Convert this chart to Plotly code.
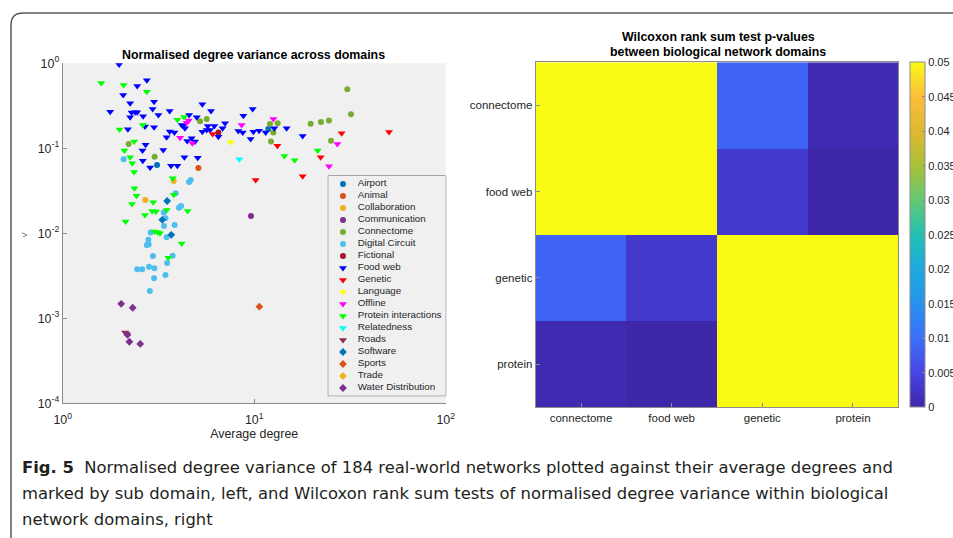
import plotly.graph_objects as go

W, H = 953, 538


def fx(px):
    return px / W


def fy(py):
    return 1 - py / H


# ---------------------------------------------------------------- scatter data
# (average degree, normalised degree variance) per sub domain
airport_deg = [11.85, 3.11]
airport_var = [0.169, 0.0637]

animal_deg = [5.11]
animal_var = [0.0587]

collaboration_deg = [3.80, 2.70]
collaboration_var = [0.0413, 0.0247]

communication_deg = [9.62]
communication_var = [0.0160]

connectome_deg = [2.21, 3.02, 5.21, 5.65, 12.09, 13.26, 12.59, 12.24,
                  30.64, 32.03, 19.71, 22.32, 24.58, 25.18]
connectome_var = [0.112, 0.0798, 0.208, 0.221, 0.193, 0.197, 0.153, 0.120,
                  0.494, 0.251, 0.195, 0.204, 0.213, 0.123]

digital_deg = [2.08, 4.57, 4.66, 3.89, 4.15, 4.05, 3.37, 3.44, 3.38, 3.84,
               2.88, 3.49, 2.80, 2.75, 2.81, 2.96, 3.75, 3.51, 2.82, 2.45,
               2.60, 3.01, 3.44, 3.00, 2.85]
digital_var = [0.0743, 0.0402, 0.0424, 0.0296, 0.0210, 0.0200, 0.0176, 0.0150,
               0.0122, 0.0125, 0.0102, 0.0090, 0.0084, 0.0073, 0.0074, 0.00541,
               0.00546, 0.00448, 0.00405, 0.00377, 0.00377, 0.00388, 0.00323,
               0.00296, 0.00210]

fictional_deg = [6.50]
fictional_var = [0.153]

food_web_deg = [1.97, 2.45, 2.75, 2.07, 2.25, 3.00, 2.95, 1.77, 2.29, 2.39,
                2.45, 2.25, 2.63, 3.16, 3.62, 2.19, 2.69, 3.00, 4.18, 4.26,
                4.35, 3.62, 3.83, 3.49, 4.47, 2.71, 3.35, 2.61, 4.32, 2.62,
                2.86, 3.68, 3.97, 5.36, 5.95, 9.82, 8.78, 4.57, 5.01, 7.04,
                6.19, 5.72, 6.84, 12.74, 14.77, 5.36, 5.65, 5.88, 6.50, 8.26,
                8.71, 9.90, 10.60, 11.48, 9.58, 4.71, 4.91, 5.07, 17.91]
food_web_var = [0.965, 0.541, 0.631, 0.424, 0.338, 0.354, 0.290, 0.270, 0.263, 0.265,
                0.265, 0.232, 0.238, 0.247, 0.275, 0.167, 0.180, 0.177, 0.188, 0.183,
                0.172, 0.158, 0.153, 0.135, 0.122, 0.110, 0.0956, 0.0939, 0.0783, 0.0716,
                0.0593, 0.0625, 0.0625, 0.329, 0.275, 0.290, 0.242, 0.247, 0.232, 0.197,
                0.183, 0.183, 0.172, 0.172, 0.172, 0.157, 0.164, 0.164, 0.137, 0.160,
                0.153, 0.157, 0.161, 0.153, 0.129, 0.131, 0.120, 0.0776, 0.140]

genetic_deg = [6.07, 28.62, 50.57, 13.21, 22.23, 17.91, 10.18]
genetic_var = [0.147, 0.150, 0.156, 0.107, 0.0783, 0.0469, 0.0424]

language_deg = [7.54]
language_var = [0.118]

offline_deg = [4.44, 4.55, 4.10, 4.75, 12.59, 8.60, 27.18, 24.58]
offline_var = [0.200, 0.213, 0.133, 0.115, 0.221, 0.188, 0.112, 0.0614]

protein_deg = [1.59, 2.08, 2.75, 1.98, 2.62, 3.97, 4.30, 2.36, 2.10, 2.25,
               2.31, 2.36, 3.75, 14.37, 21.45, 16.27, 2.37, 2.43, 3.80, 2.97,
               2.30, 4.49, 2.93, 3.07, 3.49, 2.69, 2.13, 3.02, 3.13, 3.22,
               4.18, 3.56]
protein_var = [0.587, 0.556, 0.464, 0.166, 0.188, 0.216, 0.234, 0.120, 0.0939, 0.0783,
               0.0666, 0.0527, 0.0444, 0.0813, 0.0939, 0.0723, 0.0338, 0.0277, 0.0285, 0.0232,
               0.0221, 0.0183, 0.0183, 0.0180, 0.0188, 0.0164, 0.0138, 0.0105, 0.0103, 0.0100,
               0.0076, 0.00517]

relatedness_deg = [8.36]
relatedness_var = [0.0743]

roads_deg = [2.12, 2.16]
roads_var = [0.00068, 0.00066]

software_deg = [3.51, 3.31, 3.69]
software_var = [0.0240, 0.0144, 0.0096]

sports_deg = [10.64]
sports_var = [0.00137]

trade_deg = []
trade_var = []

water_deg = [2.02, 2.32, 2.18, 2.23, 2.54]
water_var = [0.00148, 0.00133, 0.00064, 0.00053, 0.00050]

domain_names = ["Airport", "Animal", "Collaboration", "Communication", "Connectome",
                "Digital Circuit", "Fictional", "Food web", "Genetic", "Language",
                "Offline", "Protein interactions", "Relatedness", "Roads", "Software",
                "Sports", "Trade", "Water Distribution"]

domain_data = [
    (airport_deg, airport_var), (animal_deg, animal_var),
    (collaboration_deg, collaboration_var), (communication_deg, communication_var),
    (connectome_deg, connectome_var), (digital_deg, digital_var),
    (fictional_deg, fictional_var), (food_web_deg, food_web_var),
    (genetic_deg, genetic_var), (language_deg, language_var),
    (offline_deg, offline_var), (protein_deg, protein_var),
    (relatedness_deg, relatedness_var), (roads_deg, roads_var),
    (software_deg, software_var), (sports_deg, sports_var),
    (trade_deg, trade_var), (water_deg, water_var),
]

# marker style per domain: circles, triangles, diamonds
domain_symbols = (["circle"] * 7 + ["triangle-down"] * 7 + ["diamond"] * 4)
domain_colors = ["#0072BD", "#D95319", "#EDB120", "#7E2F8E", "#77AC30", "#4DBEEE",
                 "#A2142F", "#0000FF", "#FF0000", "#FFFF00", "#FF00FF", "#00FF00",
                 "#00FFFF", "#8E2C4A", "#0072BD", "#D95319", "#EDB120", "#7E2F8E"]

y_tick_vals = [1e-4, 1e-3, 1e-2, 1e-1, 1]
y_tick_text = ["10<sup>-4</sup>", "10<sup>-3</sup>", "10<sup>-2</sup>",
               "10<sup>-1</sup>", "10<sup>0</sup>"]
x_tick_vals = [1, 10, 100]
x_tick_text = ["10<sup>0</sup>", "10<sup>1</sup>", "10<sup>2</sup>"]

# ---------------------------------------------------------------- heatmap data
bio_domains = ["connectome", "food web", "genetic", "protein"]
p_values = [
    [1.0, 0.41, 0.0085, 0.0008],
    [0.41, 1.0, 0.0030, 0.0001],
    [0.0085, 0.0030, 1.0, 0.27],
    [0.0008, 0.0001, 0.27, 1.0],
]
cbar_vals = [0, 0.005, 0.01, 0.015, 0.02, 0.025, 0.03, 0.035, 0.04, 0.045, 0.05]
cbar_text = ["0", "0.005", "0.01", "0.015", "0.02", "0.025", "0.03", "0.035",
             "0.04", "0.045", "0.05"]

parula = [
    [0.0, "rgb(62,38,168)"], [0.1, "rgb(71,70,230)"], [0.2, "rgb(60,112,250)"],
    [0.3, "rgb(40,145,235)"], [0.4, "rgb(28,170,222)"], [0.5, "rgb(35,192,180)"],
    [0.6, "rgb(100,200,115)"], [0.7, "rgb(170,192,58)"], [0.8, "rgb(222,185,48)"],
    [0.9, "rgb(252,190,60)"], [1.0, "rgb(249,251,20)"],
]

FONT = "Liberation Sans, Arial, sans-serif"
CAPTION_FONT = "DejaVu Sans, sans-serif"
TXT = "#262626"
AX = "#8c8c8c"

fig = go.Figure()

for name, (xs, ys), sym, col in zip(domain_names, domain_data, domain_symbols, domain_colors):
    size = 7 if sym == "triangle-down" else 6
    fig.add_trace(go.Scatter(
        x=xs, y=ys, mode="markers", name=name, xaxis="x", yaxis="y",
        marker=dict(symbol=sym, color=col, size=size, line=dict(width=0)),
        showlegend=False, hoverinfo="skip"))

# in-axes legend drawn on its own small subplot
legend_rows = list(range(len(domain_names)))
for name, row, sym, col in zip(domain_names, legend_rows, domain_symbols, domain_colors):
    fig.add_trace(go.Scatter(
        x=[0.125], y=[row], mode="markers", xaxis="x3", yaxis="y3",
        marker=dict(symbol=sym, color=col, size=6 if sym != "triangle-down" else 7,
                    line=dict(width=0)),
        showlegend=False, hoverinfo="skip"))
fig.add_trace(go.Scatter(
    x=[0.25] * len(domain_names), y=legend_rows, mode="text", text=domain_names,
    textposition="middle right", textfont=dict(family=FONT, size=9.8, color=TXT),
    xaxis="x3", yaxis="y3", showlegend=False, hoverinfo="skip"))

fig.add_trace(go.Heatmap(
    x=bio_domains, y=bio_domains, z=p_values, xaxis="x2", yaxis="y2",
    zmin=0, zmax=0.05, colorscale=parula, hoverinfo="skip",
    colorbar=dict(x=fx(910), xanchor="left", xpad=0, ypad=0, thickness=15,
                  thicknessmode="pixels", len=(407.3 - 62.3) / H, lenmode="fraction",
                  y=fy((62.3 + 407.3) / 2), yanchor="middle",
                  outlinecolor=AX, outlinewidth=1,
                  ticks="inside", ticklen=3, tickcolor=AX,
                  tickvals=cbar_vals, ticktext=cbar_text,
                  tickfont=dict(family=FONT, size=11, color=TXT))))

axis_common = dict(showgrid=False, zeroline=False, showline=True, linecolor=AX,
                   linewidth=1, ticks="inside", ticklen=4, tickcolor=AX, automargin=False,
                   tickfont=dict(family=FONT, size=12.4, color=TXT))

fig.update_layout(
    width=W, height=H, margin=dict(l=0, r=0, t=0, b=0, autoexpand=False),
    paper_bgcolor="white", plot_bgcolor="#f0f0f0",
    xaxis=dict(type="log", range=[0, 2], domain=[fx(62.7), fx(445.7)], anchor="y",
               tickvals=x_tick_vals, ticktext=x_tick_text, ticklabelstandoff=5,
               title=dict(text="Average degree", font=dict(family=FONT, size=12.4, color=TXT),
                          standoff=2),
               **axis_common),
    yaxis=dict(type="log", range=[-4, 0], domain=[fy(403.3), fy(63.3)], anchor="x",
               tickvals=y_tick_vals, ticktext=y_tick_text, **axis_common),
    xaxis2=dict(domain=[fx(535.7), fx(898.3)], anchor="y2", mirror=True,
                **{**axis_common, "tickfont": dict(family=FONT, size=11.5, color=TXT)}),
    yaxis2=dict(domain=[fy(407.3), fy(62.3)], anchor="x2", autorange="reversed", mirror=True,
                **{**axis_common, "tickfont": dict(family=FONT, size=11.5, color=TXT)}),
    xaxis3=dict(domain=[fx(328.3), fx(445.7)], anchor="y3", range=[0, 1], visible=False),
    yaxis3=dict(domain=[fy(395.7), fy(176)], anchor="x3", range=[17.64, -0.667],
                visible=False),
)

# legend frame
fig.add_shape(type="rect", xref="paper", yref="paper", layer="below",
              x0=fx(328.3), x1=fx(445.7), y0=fy(395.7), y1=fy(176),
              fillcolor="white", line=dict(color="#5a5a5a", width=1))

# figure frame with rounded top-left corner
fig.add_shape(type="path", xref="paper", yref="paper", layer="above",
              path=f"M {fx(11)},{fy(538)} L {fx(11)},{fy(25)} "
                   f"Q {fx(11)},{fy(13)} {fx(23)},{fy(13)} L {fx(953)},{fy(13)}",
              line=dict(color="#5a5a5a", width=1.5))

annotations = [
    dict(text="<b>Normalised degree variance across domains</b>", x=fx(254), y=fy(55),
         font=dict(family=FONT, size=12.4, color="black")),
    dict(text="<b>Wilcoxon rank sum test p-values</b>", x=fx(718), y=fy(37),
         font=dict(family=FONT, size=12.4, color="black")),
    dict(text="<b>between biological network domains</b>", x=fx(718), y=fy(52),
         font=dict(family=FONT, size=12.4, color="black")),
    dict(text="ν̄", x=fx(25), y=fy(234), textangle=-90,
         font=dict(family=FONT, size=8, color="#555555")),
]
caption = [
    "<b>Fig. 5</b>  Normalised degree variance of 184 real-world networks plotted against their average degrees and",
    "marked by sub domain, left, and Wilcoxon rank sum tests of normalised degree variance within biological",
    "network domains, right",
]
for line, py in zip(caption, [467, 493, 519]):
    annotations.append(dict(text=line, x=fx(20), y=fy(py), xanchor="left",
                            font=dict(family=CAPTION_FONT, size=16.4, color="#231f20")))
for a in annotations:
    a.setdefault("xanchor", "center")
    a.update(xref="paper", yref="paper", yanchor="middle", showarrow=False)
fig.update_layout(annotations=annotations)

fig.write_html("out.html")
